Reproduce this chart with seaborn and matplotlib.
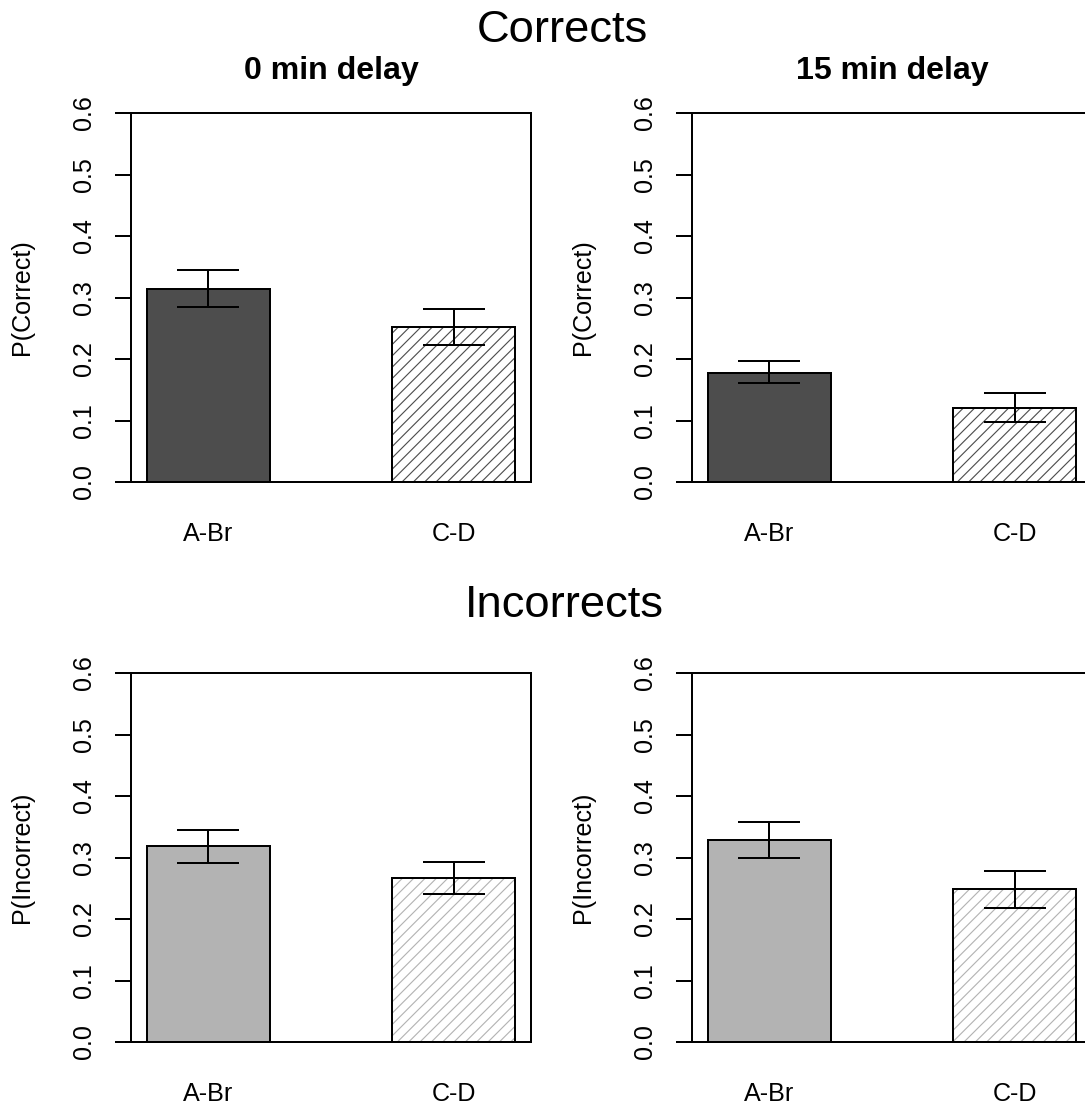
import numpy as np
import pandas as pd
import matplotlib
matplotlib.use("Agg")
import matplotlib.pyplot as plt
import seaborn as sns

# data
conditions = ["A-Br", "C-D"]
delays = ["0 min delay", "15 min delay"]

correct_0 = [0.314, 0.252]
correct_0_lo = [0.285, 0.223]
correct_0_hi = [0.344, 0.282]

correct_15 = [0.178, 0.121]
correct_15_lo = [0.161, 0.098]
correct_15_hi = [0.197, 0.144]

incorrect_0 = [0.318, 0.267]
incorrect_0_lo = [0.291, 0.241]
incorrect_0_hi = [0.344, 0.293]

incorrect_15 = [0.328, 0.248]
incorrect_15_lo = [0.299, 0.218]
incorrect_15_hi = [0.357, 0.278]

yticks = [0.0, 0.1, 0.2, 0.3, 0.4, 0.5, 0.6]

DPI = 136
W, H = 1085, 1105

sns.set_theme(style="white")
plt.rcParams["font.family"] = ["Liberation Sans", "DejaVu Sans"]
plt.rcParams["hatch.linewidth"] = 0.6
plt.rcParams["text.color"] = "black"
plt.rcParams["axes.labelcolor"] = "black"


def draw_panel(ax, vals, lo, hi, fill, hatch_col, ylabel, title=None):
    df = pd.DataFrame({"cond": conditions, "val": vals})
    # filled bars + hatch
    sns.barplot(data=df, x="cond", y="val", hue="cond", palette=[fill, "white"],
                legend=False, errorbar=None, width=0.5, linewidth=0, ax=ax)
    hatched = ax.patches[1]
    hatched.set_hatch("////")
    hatched.set_edgecolor(hatch_col)
    hatched.set_linewidth(0)
    # black outlines on top
    sns.barplot(data=df, x="cond", y="val", fill=False, color="black",
                errorbar=None, width=0.5, linewidth=1.05, ax=ax)
    for p in ax.patches[2:]:
        p.set_edgecolor("black")

    v = np.array(vals)
    yerr = [v - np.array(lo), np.array(hi) - v]
    ax.errorbar(np.arange(len(conditions)), v, yerr=yerr, fmt="none",
                ecolor="black", elinewidth=1.05, capsize=16.5, capthick=1.05)

    ax.set_xlim(-0.314, 1.314)
    ax.set_ylim(0, 0.6)
    ax.set_yticks(yticks)
    ax.set_yticklabels([f"{t:.1f}" for t in yticks])
    ax.tick_params(axis="y", left=True, length=8.5, width=1.05, pad=10,
                   labelsize=13.3, labelrotation=90, colors="black")
    for lbl in ax.get_yticklabels():
        lbl.set_va("center")
    ax.tick_params(axis="x", length=0, pad=21, labelsize=13.3, colors="black")
    ax.set_xlabel("")
    ax.set_ylabel(ylabel, fontsize=13.3, color="black")
    ax.yaxis.set_label_coords(-0.242, 0.5)
    for s in ax.spines.values():
        s.set_visible(True)
        s.set_color("black")
        s.set_linewidth(1.05)
    if title:
        ax.set_title(title, fontsize=17, fontweight="bold", pad=18, color="black")


fig = plt.figure(figsize=(W / DPI, H / DPI), dpi=DPI)

left_x = [131, 692]
top_y = [113, 673]
aw, ah = 400, 369

panels = [
    (0, 0, correct_0, correct_0_lo, correct_0_hi, "#4D4D4D", "#4D4D4D", "P(Correct)", delays[0]),
    (0, 1, correct_15, correct_15_lo, correct_15_hi, "#4D4D4D", "#4D4D4D", "P(Correct)", delays[1]),
    (1, 0, incorrect_0, incorrect_0_lo, incorrect_0_hi, "#B3B3B3", "#B3B3B3", "P(Incorrect)", None),
    (1, 1, incorrect_15, incorrect_15_lo, incorrect_15_hi, "#B3B3B3", "#B3B3B3", "P(Incorrect)", None),
]

for r, c, vals, lo, hi, fill, hcol, ylab, title in panels:
    ax = fig.add_axes([left_x[c] / W, 1 - (top_y[r] + ah) / H, aw / W, ah / H])
    draw_panel(ax, vals, lo, hi, fill, hcol, ylab, title)

fig.text(562.5 / W, 1 - 42 / H, "Corrects", ha="center", va="baseline", fontsize=24)
fig.text(564 / W, 1 - 617 / H, "Incorrects", ha="center", va="baseline", fontsize=24)

fig.savefig("out.png", dpi=DPI, facecolor="white")
plt.close(fig)
